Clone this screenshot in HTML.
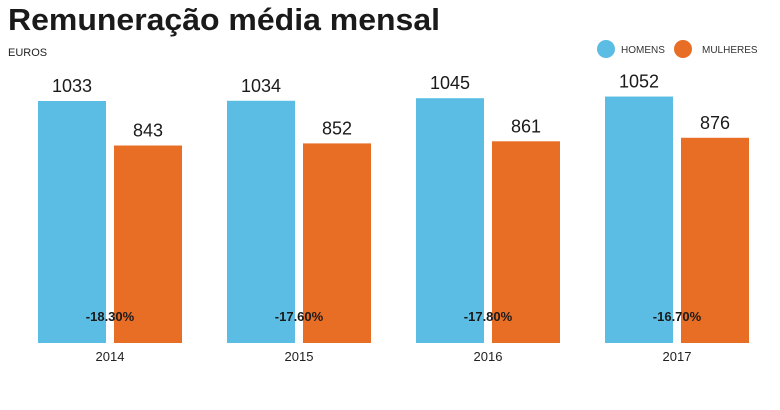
<!DOCTYPE html>
<html><head><meta charset="utf-8"><style>
body{margin:0;background:#fff;width:780px;height:405px;overflow:hidden;font-family:"Liberation Sans",sans-serif}
</style></head><body>
<svg id="chart" width="780" height="405" xmlns="http://www.w3.org/2000/svg">
<text x="8" y="30" font-size="31" font-weight="bold" fill="#1a1a1a" font-family="Liberation Sans, sans-serif" textLength="432" lengthAdjust="spacingAndGlyphs">Remuneração média mensal</text>
<text x="8" y="56" font-size="11" fill="#222">EUROS</text>
<g>
<circle cx="606" cy="49" r="9" fill="#5bbde4"/>
<text x="621" y="53" font-size="10" fill="#333">HOMENS</text>
<circle cx="683" cy="49" r="9" fill="#e86d25"/>
<text x="702" y="53" font-size="10" fill="#333">MULHERES</text>
</g>
<g id="bars"></g>
</svg>
<script>
const years = ["2014","2015","2016","2017"];
const homens = [1033,1034,1045,1052];
const mulheres = [843,852,861,876];
const gaps = ["-18.30%","-17.60%","-17.80%","-16.70%"];
const NS="http://www.w3.org/2000/svg";
const g=document.getElementById('bars');
const baseY=343, scale=242/1033;
function y(v){return baseY-v*scale;}
function x(i){return 38+i*189;}
function mk(tag,attrs){const e=document.createElementNS(NS,tag);for(const k in attrs)e.setAttribute(k,attrs[k]);g.appendChild(e);return e;}
years.forEach((yr,i)=>{
  const bx=x(i);
  const b=mk('rect',{x:bx,y:y(homens[i]),width:68,height:homens[i]*scale,fill:'#5bbde4'});
  
  
  const o=mk('rect',{x:bx+76,y:y(mulheres[i]),width:68,height:mulheres[i]*scale,fill:'#e86d25'});
  
  
  const t1=mk('text',{x:bx+34,y:y(homens[i])-9,'font-size':18,'text-anchor':'middle',fill:'#1a1a1a'});
  t1.textContent=homens[i];
  
  
  const t2=mk('text',{x:bx+110,y:y(mulheres[i])-9,'font-size':18,'text-anchor':'middle',fill:'#1a1a1a'});
  t2.textContent=mulheres[i];
  
  
  const p=mk('text',{x:bx+72,y:321,'font-size':13,'font-weight':'bold','text-anchor':'middle',fill:'#1a1a1a'});
  p.textContent=gaps[i];
  
  
  const l=mk('text',{x:bx+72,y:361,'font-size':13,'text-anchor':'middle',fill:'#222'});
  l.textContent=yr;
  
  
});
</script>
</body></html>
